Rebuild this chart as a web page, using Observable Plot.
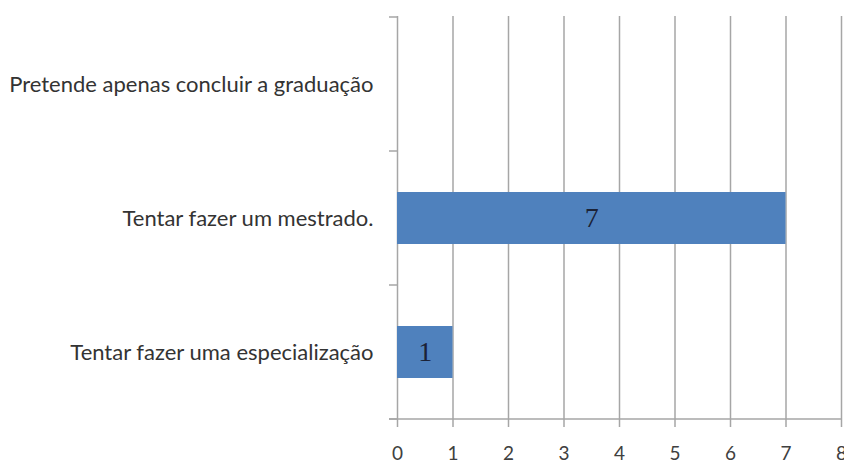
<!DOCTYPE html>
<html>
<head>
<meta charset="utf-8">
<script src="https://cdn.jsdelivr.net/npm/d3@7"></script>
<script src="https://cdn.jsdelivr.net/npm/@observablehq/plot@0.6"></script>
<style>
  html, body { margin: 0; padding: 0; background: #fff; overflow: hidden; }
  #chart svg { display: block; overflow: hidden; }
</style>
</head>
<body>
<div id="chart"></div>
<script>
// Answer options, top to bottom
const categories = [
  "Pretende apenas concluir a graduação",
  "Tentar fazer um mestrado.",
  "Tentar fazer uma especialização"
];
// Number of respondents per option
const counts = [0, 7, 1];
// Horizontal axis ticks
const xTicks = [0, 1, 2, 3, 4, 5, 6, 7, 8];

const data = categories.map((c, i) => ({category: c, count: counts[i]}));

const gridColor = "#a6a6a6";
const barColor = "#4f81bd";

const fig = Plot.plot({
  width: 844,
  height: 466,
  marginLeft: 397,
  marginRight: 3,
  marginTop: 16,
  marginBottom: 46,
  style: {fontFamily: "Lato, 'Open Sans', sans-serif", background: "#fff", overflow: "hidden"},
  x: {domain: [0, 8], ticks: xTicks},
  y: {domain: categories, padding: 0},
  marks: [
    Plot.gridX(xTicks, {stroke: gridColor, strokeOpacity: 1, strokeWidth: 1.5}),
    Plot.barX(data, {
      x: "count",
      y: "category",
      fill: barColor,
      insetTop: 41,
      insetBottom: 41
    }),
    Plot.text(data.filter(d => d.count > 0), {
      x: d => d.count / 2,
      y: "category",
      text: d => String(d.count),
      fill: "#1b2236",
      fontSize: 28,
      fontFamily: "'Liberation Serif', 'DejaVu Serif', serif"
    }),
    Plot.axisX({
      ticks: xTicks,
      tickSize: 7,
      tickPadding: 19,
      stroke: gridColor,
      strokeWidth: 1.5,
      fill: "#404040",
      fontSize: 19,
      label: null
    }),
    Plot.axisY({
      tickSize: 0,
      tickPadding: 24,
      fill: "#333",
      fontSize: 22,
      label: null
    })
  ]
});

// Category boundary ticks and the baseline, placed from the scales
const ys = fig.scale("y");
const xs = fig.scale("x");
const x0 = xs.apply(0);
const x8 = xs.apply(8);
const svg = d3.select(fig.tagName === "svg" ? fig : fig.querySelector("svg"));
const bounds = categories.map(c => ys.apply(c)).concat([ys.apply(categories[categories.length - 1]) + ys.step]);
const g = svg.append("g").attr("stroke", gridColor).attr("stroke-width", 1.5);
g.selectAll("line.bound")
  .data(bounds)
  .join("line")
  .attr("class", "bound")
  .attr("x1", x0 - 8)
  .attr("x2", x0)
  .attr("y1", d => d)
  .attr("y2", d => d);
g.append("line")
  .attr("x1", x0 - 8)
  .attr("x2", x8)
  .attr("y1", bounds[bounds.length - 1])
  .attr("y2", bounds[bounds.length - 1]);

document.getElementById("chart").append(fig);
</script>
</body>
</html>
